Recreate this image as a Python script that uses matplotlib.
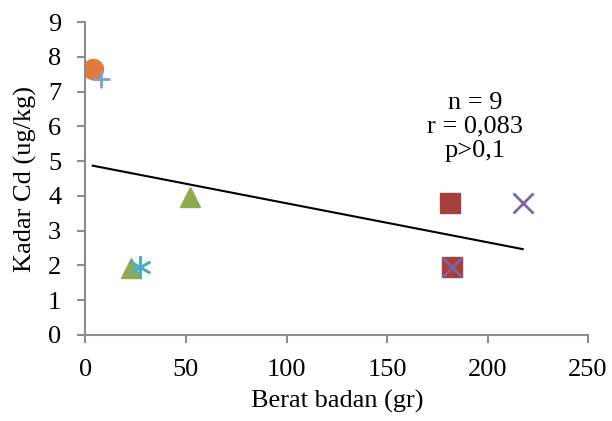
import numpy as np
import matplotlib
matplotlib.use('Agg')
from matplotlib import pyplot as plt

plt.rcParams['font.family'] = 'Liberation Serif'

# data (berat badan, kadar Cd)
berat = [3.6, 7.6, 52, 22.5, 27, 181.5, 182.5, 182.5, 217.5]
kadar = [7.66, 7.35, 3.96, 1.94, 1.95, 3.79, 1.95, 1.95, 3.80]
markers = ['o', '+', '^', '^', '*', 's', 's', 'x', 'x']
colors = ['#E07B39', '#7F9FCF', '#8FAA4F', '#8FAA4F', '#4BACC6',
          '#A5403D', '#A5403D', '#7F64A2', '#7F64A2']

slope, icpt = np.polyfit(berat, kadar, 1)
xfit = np.array([min(berat), max(berat)])

fig = plt.figure(figsize=(6.12, 4.21), dpi=100)
ax = fig.add_axes([0.1397, 0.2043, 0.8211, 0.7434])

ax.plot(xfit, slope*xfit + icpt, color='black', lw=1.5, zorder=1)

for x, y, m, c in zip(berat, kadar, markers, colors):
    if m == '+':
        ax.plot(x, y, marker=m, ms=13, color=c, mew=2, ls='none', zorder=3)
    elif m == 'x':
        ax.plot(x, y, marker=m, ms=14, color=c, mew=2, ls='none', zorder=3)
    elif m == '*':
        ax.plot(x, y, marker=(6, 2, 0), ms=16, color=c, mew=1.8, ls='none', zorder=3)
    else:
        ax.plot(x, y, marker=m, ms=14.5, color=c, mec=c, ls='none', zorder=2)

ax.text(0.775, 0.6655, 'n = 9\nr = 0,083\np>0,1', transform=ax.transAxes,
        ha='center', va='center', fontsize=19, linespacing=1.12)

ax.set_xlim(0, 250)
ax.set_ylim(0, 9)
ax.set_xticks(np.arange(0, 251, 50))
ax.set_yticks(np.arange(0, 10, 1))
ax.set_xlabel('Berat badan (gr)', fontsize=19, labelpad=6)
ax.set_ylabel('Kadar Cd (ug/kg)', fontsize=19, labelpad=8)
ax.tick_params(labelsize=19, color='#8c8c8c', width=1.5, length=5.5, direction='out')
ax.tick_params(axis='x', pad=12)
ax.tick_params(axis='y', pad=12)
for s in ['top', 'right']:
    ax.spines[s].set_visible(False)
for s in ['left', 'bottom']:
    ax.spines[s].set_color('#8c8c8c')
    ax.spines[s].set_linewidth(1.5)

fig.savefig('out.png', dpi=100)
